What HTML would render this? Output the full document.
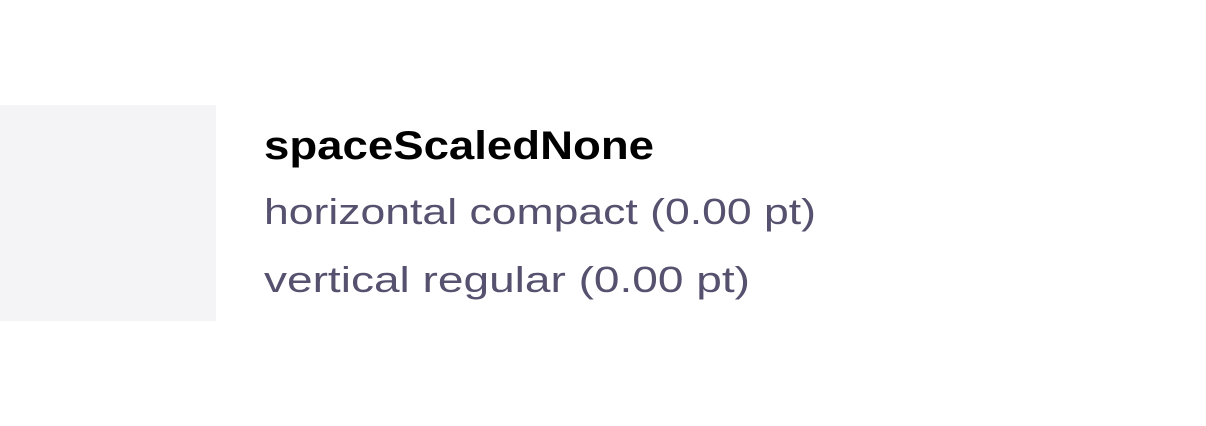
<!DOCTYPE html>
<html><head><meta charset="utf-8"><style>html,body{margin:0;padding:0;background:#fff;width:1206px;height:426px;overflow:hidden}</style></head>
<body>
<svg width="1206" height="426" xmlns="http://www.w3.org/2000/svg">
<rect x="0" y="105" width="216" height="216" fill="#f4f4f6"/>
<text x="264" y="159" font-family="Liberation Sans, sans-serif" font-weight="bold" font-size="40" fill="#000" textLength="390" lengthAdjust="spacingAndGlyphs">spaceScaledNone</text>
<text x="264" y="224" font-family="Liberation Sans, sans-serif" font-size="36" fill="#55516e" textLength="552" lengthAdjust="spacingAndGlyphs">horizontal compact (0.00 pt)</text>
<text x="264" y="292" font-family="Liberation Sans, sans-serif" font-size="36" fill="#55516e" textLength="486" lengthAdjust="spacingAndGlyphs">vertical regular (0.00 pt)</text>
</svg>
</body></html>
